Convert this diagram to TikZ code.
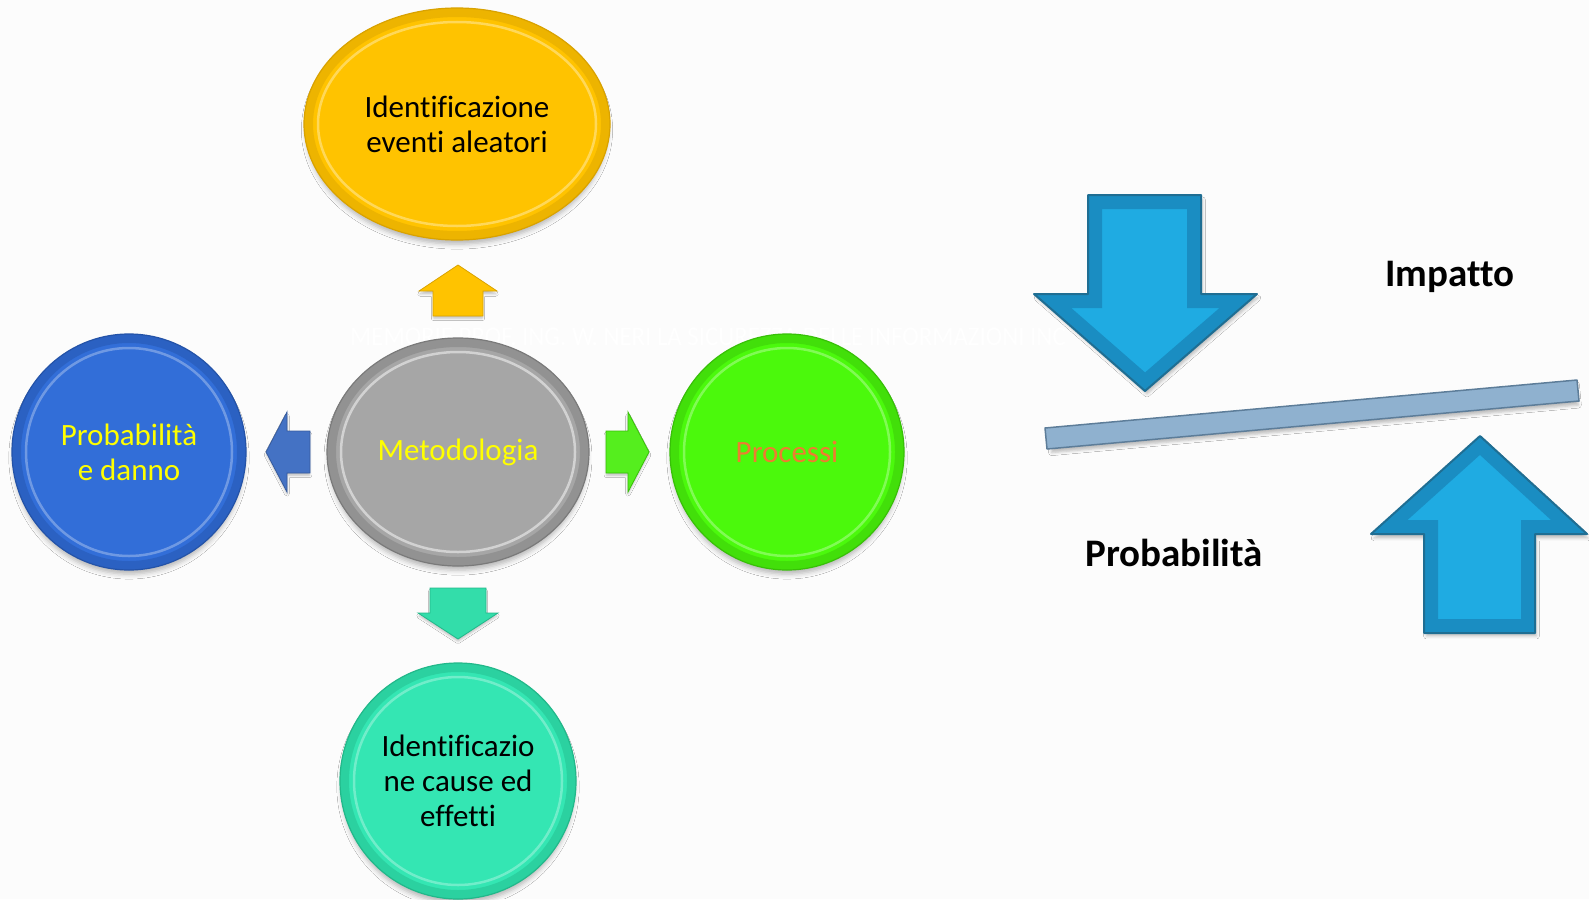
\documentclass[tikz,border=0pt]{standalone}
\usepackage{fontspec}
\setmainfont{Carlito}[Ligatures={NoCommon}]
\usetikzlibrary{shapes.geometric,shadows.blur}
\definecolor{bg}{HTML}{FCFCFC}
\definecolor{yel}{HTML}{FFC300}
\definecolor{yelD}{HTML}{D9A200}
\definecolor{gry}{HTML}{A6A6A6}
\definecolor{gryD}{HTML}{7A7A7A}
\definecolor{blu}{HTML}{326ED8}
\definecolor{bluD}{HTML}{2453A8}
\definecolor{grn}{HTML}{4BF90C}
\definecolor{grnD}{HTML}{38C008}
\definecolor{tel}{HTML}{34E6B3}
\definecolor{telD}{HTML}{22B88A}
\definecolor{txtY}{HTML}{FFFF00}
\definecolor{txtO}{HTML}{ED7D31}
\definecolor{sblu}{HTML}{4472C4}
\definecolor{sgrn}{HTML}{55EE1E}
\definecolor{stel}{HTML}{33DDAA}
\definecolor{arrIn}{HTML}{1FABE2}
\definecolor{arrBand}{HTML}{1A8DC2}
\definecolor{arrEdge}{HTML}{1F6E93}
\definecolor{barF}{HTML}{8FB1CF}
\definecolor{barE}{HTML}{5D7D99}
\tikzset{
  bub/.style={ellipse, inner sep=0pt, align=center, line width=1.2pt,
    font=\fontsize{31}{35}\selectfont,
    blur shadow={shadow xshift=0pt, shadow yshift=-6pt, shadow scale=0.985, shadow blur radius=5pt, shadow opacity=28}},
  bevel/.style n args={4}{path picture={
    \draw[#1, line width=18pt, opacity=.45] (path picture bounding box.center) ellipse [x radius=#3, y radius=#4];
    \draw[#2, line width=2.5pt, opacity=.5] (path picture bounding box.center) ellipse [x radius={#3-14}, y radius={#4-14}];
  }},
  smallarrow/.style={line width=0.8pt, line join=miter,
    blur shadow={shadow xshift=0pt, shadow yshift=-3pt, shadow scale=0.97, shadow blur radius=2.5pt, shadow opacity=25}},
  bigshadow/.style={blur shadow={shadow xshift=2pt, shadow yshift=-4pt, shadow scale=0.99, shadow blur radius=3pt, shadow opacity=25}},
  biglabel/.style={font=\fontsize{39}{44}\selectfont\bfseries, text=black},
  darrowpath/.style={insert path={(1088,195) -- (1201,195) -- (1201,294) -- (1257,294) -- (1145,391) -- (1034,294) -- (1088,294) -- cycle}},
  uarrowpath/.style={insert path={(1424,633) -- (1535,633) -- (1535,534) -- (1587,534) -- (1480,436) -- (1371,534) -- (1424,534) -- cycle}},
  barpath/.style={insert path={(1045,428) -- (1577,380) -- (1579,401) -- (1047,449) -- cycle}},
}
\begin{document}
\begin{tikzpicture}[x=1pt,y=-1pt]
\fill[bg] (0,0) rectangle (1589,899);
\useasboundingbox (0,0) rectangle (1589,899);

% faint watermark
\node[text=white, font=\fontsize{27}{30}\selectfont, inner sep=0pt] (wm) at (708,337)
  {\scalebox{0.92}[1]{MEMORIE PROF. ING. W. NERI LA SICUREZZA DELLE INFORMAZIONI INC}};

% bubbles
\node[bub, minimum width=306, minimum height=232, fill=yel, draw=yelD, bevel={yelD}{yel!30!white}{153}{116}]
  (ide) at (457,124) {Identificazione\\eventi aleatori};
\node[bub, minimum width=262, minimum height=228, fill=gry, draw=gryD, text=txtY, bevel={gryD}{white}{131}{114}]
  (met) at (458,452) {Metodologia};
\node[bub, minimum width=234, minimum height=236, fill=blu, draw=bluD, text=txtY, bevel={bluD}{blu!40!white}{117}{118}]
  (prob) at (129,452) {Probabilità\\e danno};
\node[bub, minimum width=234, minimum height=236, fill=grn, draw=grnD, text=txtO, bevel={grnD}{grn!40!white}{117}{118}]
  (proc) at (787,452) {Processi};
\node[bub, minimum width=236, minimum height=236, fill=tel, draw=telD, bevel={telD}{tel!40!white}{118}{118}]
  (cause) at (458,781) {Identificazio\\ne cause ed\\effetti};

% small block arrows from the centre
\filldraw[smallarrow, fill=yel, draw=yelD]
  (433,316) -- (483,316) -- (483,291) -- (497,291) -- (458,265) -- (419,291) -- (433,291) -- cycle;
\filldraw[smallarrow, fill=stel, draw=telD]
  (430,588) -- (486,588) -- (486,613) -- (498,613) -- (458,639) -- (418,613) -- (430,613) -- cycle;
\filldraw[smallarrow, fill=sblu, draw=sblu!80!black]
  (310,431) -- (310,473) -- (287,473) -- (287,492) -- (266,452) -- (287,412) -- (287,431) -- cycle;
\filldraw[smallarrow, fill=sgrn, draw=grnD]
  (606,431) -- (606,473) -- (628,473) -- (628,492) -- (649,452) -- (628,412) -- (628,431) -- cycle;

% right part: balance
\path[barpath, fill=barF, bigshadow];
\draw[barpath, barE, line width=1.5pt, line join=round];

\path[darrowpath, fill=arrBand, bigshadow];
\begin{scope}
  \clip[darrowpath];
  \fill[darrowpath, arrIn];
  \draw[darrowpath, arrBand, line width=28pt, line join=miter];
\end{scope}
\draw[darrowpath, arrEdge, line width=2pt, line join=round];

\path[uarrowpath, fill=arrBand, bigshadow];
\begin{scope}
  \clip[uarrowpath];
  \fill[uarrowpath, arrIn];
  \draw[uarrowpath, arrBand, line width=28pt, line join=miter];
\end{scope}
\draw[uarrowpath, arrEdge, line width=2pt, line join=round];

\node[biglabel] (imp) at (1450,277) {Impatto};
\node[biglabel] (pro) at (1174,553) {Probabilità};
\end{tikzpicture}
\end{document}
